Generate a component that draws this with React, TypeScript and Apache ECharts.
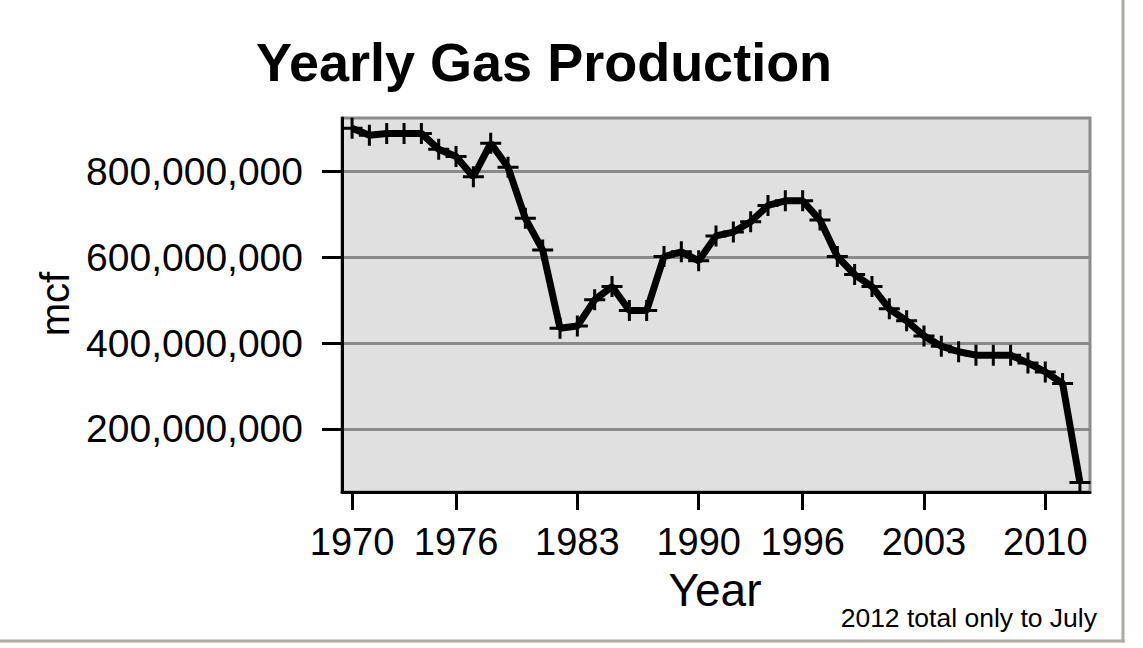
import React, { useEffect, useRef } from "react";
import * as echarts from "echarts";

const years: number[] = [
  1970, 1971, 1972, 1973, 1974, 1975, 1976, 1977, 1978, 1979,
  1980, 1981, 1982, 1983, 1984, 1985, 1986, 1987, 1988, 1989,
  1990, 1991, 1992, 1993, 1994, 1995, 1996, 1997, 1998, 1999,
  2000, 2001, 2002, 2003, 2004, 2005, 2006, 2007, 2008, 2009,
  2010, 2011, 2012,
];
// production in millions of mcf
const productionM: number[] = [
  901, 885, 889, 889, 889, 852, 835, 788, 866, 810,
  691, 617, 435, 440, 501, 532, 476, 476, 602, 613,
  592, 650, 659, 683, 721, 732, 732, 687, 602, 560,
  532, 480, 452, 417, 393, 380, 372, 372, 372, 354,
  333, 306, 75,
];
const xTickYears: number[] = [1970, 1976, 1983, 1990, 1996, 2003, 2010];
const yTickValues: number[] = [200000000, 400000000, 600000000, 800000000];

const FONT = "'Liberation Sans', Arial, sans-serif";

const plusPath =
  "path://M9,0 h3 v9 h9 v3 h-9 v9 h-3 v-9 h-9 v-3 h9 z";

function fmt(v: number): string {
  return Math.round(v).toString().replace(/\B(?=(\d{3})+(?!\d))/g, ",");
}

export default function App() {
  const ref = useRef<HTMLDivElement>(null);
  useEffect(() => {
    document.body.style.margin = "0";
    if (!ref.current) return;
    const chart = echarts.init(ref.current, undefined, { renderer: "svg" });
    const data = years.map((y, i) => [y, productionM[i] * 1000000]);
    chart.setOption({
      animation: false,
      backgroundColor: "#ffffff",
      grid: {
        left: 342,
        right: 53,
        top: 118,
        bottom: 156,
        show: true,
        backgroundColor: "#e0e0e0",
        borderColor: "#8a8a8a",
        borderWidth: 3,
      },
      xAxis: {
        type: "value",
        min: 1969.42,
        max: 2012.58,
        axisLine: { show: true, onZero: false, lineStyle: { color: "#000", width: 3 } },
        axisTick: {
          show: true,
          customValues: xTickYears,
          length: 18,
          lineStyle: { color: "#000", width: 3 },
        },
        axisLabel: {
          customValues: xTickYears,
          formatter: (v: number) => String(v),
          color: "#000",
          fontFamily: FONT,
          fontSize: 38,
          margin: 31,
        },
        splitLine: { show: false },
      },
      yAxis: {
        type: "value",
        min: 53000000,
        max: 925000000,
        axisLine: { show: true, lineStyle: { color: "#000", width: 3 } },
        axisTick: {
          show: true,
          customValues: yTickValues,
          length: 20,
          lineStyle: { color: "#000", width: 3 },
        },
        axisLabel: {
          customValues: yTickValues,
          formatter: (v: number) => fmt(v),
          color: "#000",
          fontFamily: FONT,
          fontSize: 39,
          margin: 39,
        },
        splitLine: { show: true, lineStyle: { color: "#8a8a8a", width: 3 } },
      },
      graphic: [
        {
          type: "text",
          x: 544,
          y: 62,
          style: {
            text: "Yearly Gas Production",
            font: `bold 54px ${FONT}`,
            fill: "#000",
            textAlign: "center",
            textVerticalAlign: "middle",
          },
        },
        {
          type: "text",
          x: 55,
          y: 304,
          rotation: Math.PI / 2,
          style: {
            text: "mcf",
            font: `40px ${FONT}`,
            fill: "#000",
            textAlign: "center",
            textVerticalAlign: "middle",
          },
        },
        {
          type: "text",
          x: 715,
          y: 590,
          style: {
            text: "Year",
            font: `46px ${FONT}`,
            fill: "#000",
            textAlign: "center",
            textVerticalAlign: "middle",
          },
        },
        {
          type: "text",
          x: 1097,
          y: 618,
          style: {
            text: "2012 total only to July",
            font: `26.5px ${FONT}`,
            fill: "#000",
            textAlign: "right",
            textVerticalAlign: "middle",
          },
        },
        {
          type: "line",
          shape: { x1: 1123, y1: 0, x2: 1123, y2: 642.5 },
          style: { stroke: "#aeaa9e", lineWidth: 3 },
        },
        {
          type: "line",
          shape: { x1: 0, y1: 641, x2: 1124.5, y2: 641 },
          style: { stroke: "#aeaa9e", lineWidth: 3 },
        },
      ],
      series: [
        {
          type: "line",
          data,
          lineStyle: { color: "#000", width: 7 },
          itemStyle: { color: "#000" },
          symbol: plusPath,
          symbolSize: 21,
          showSymbol: true,
          showAllSymbol: true,
          clip: false,
        },
      ],
    });
    return () => chart.dispose();
  }, []);
  return <div ref={ref} style={{ width: 1143, height: 648 }} />;
}
